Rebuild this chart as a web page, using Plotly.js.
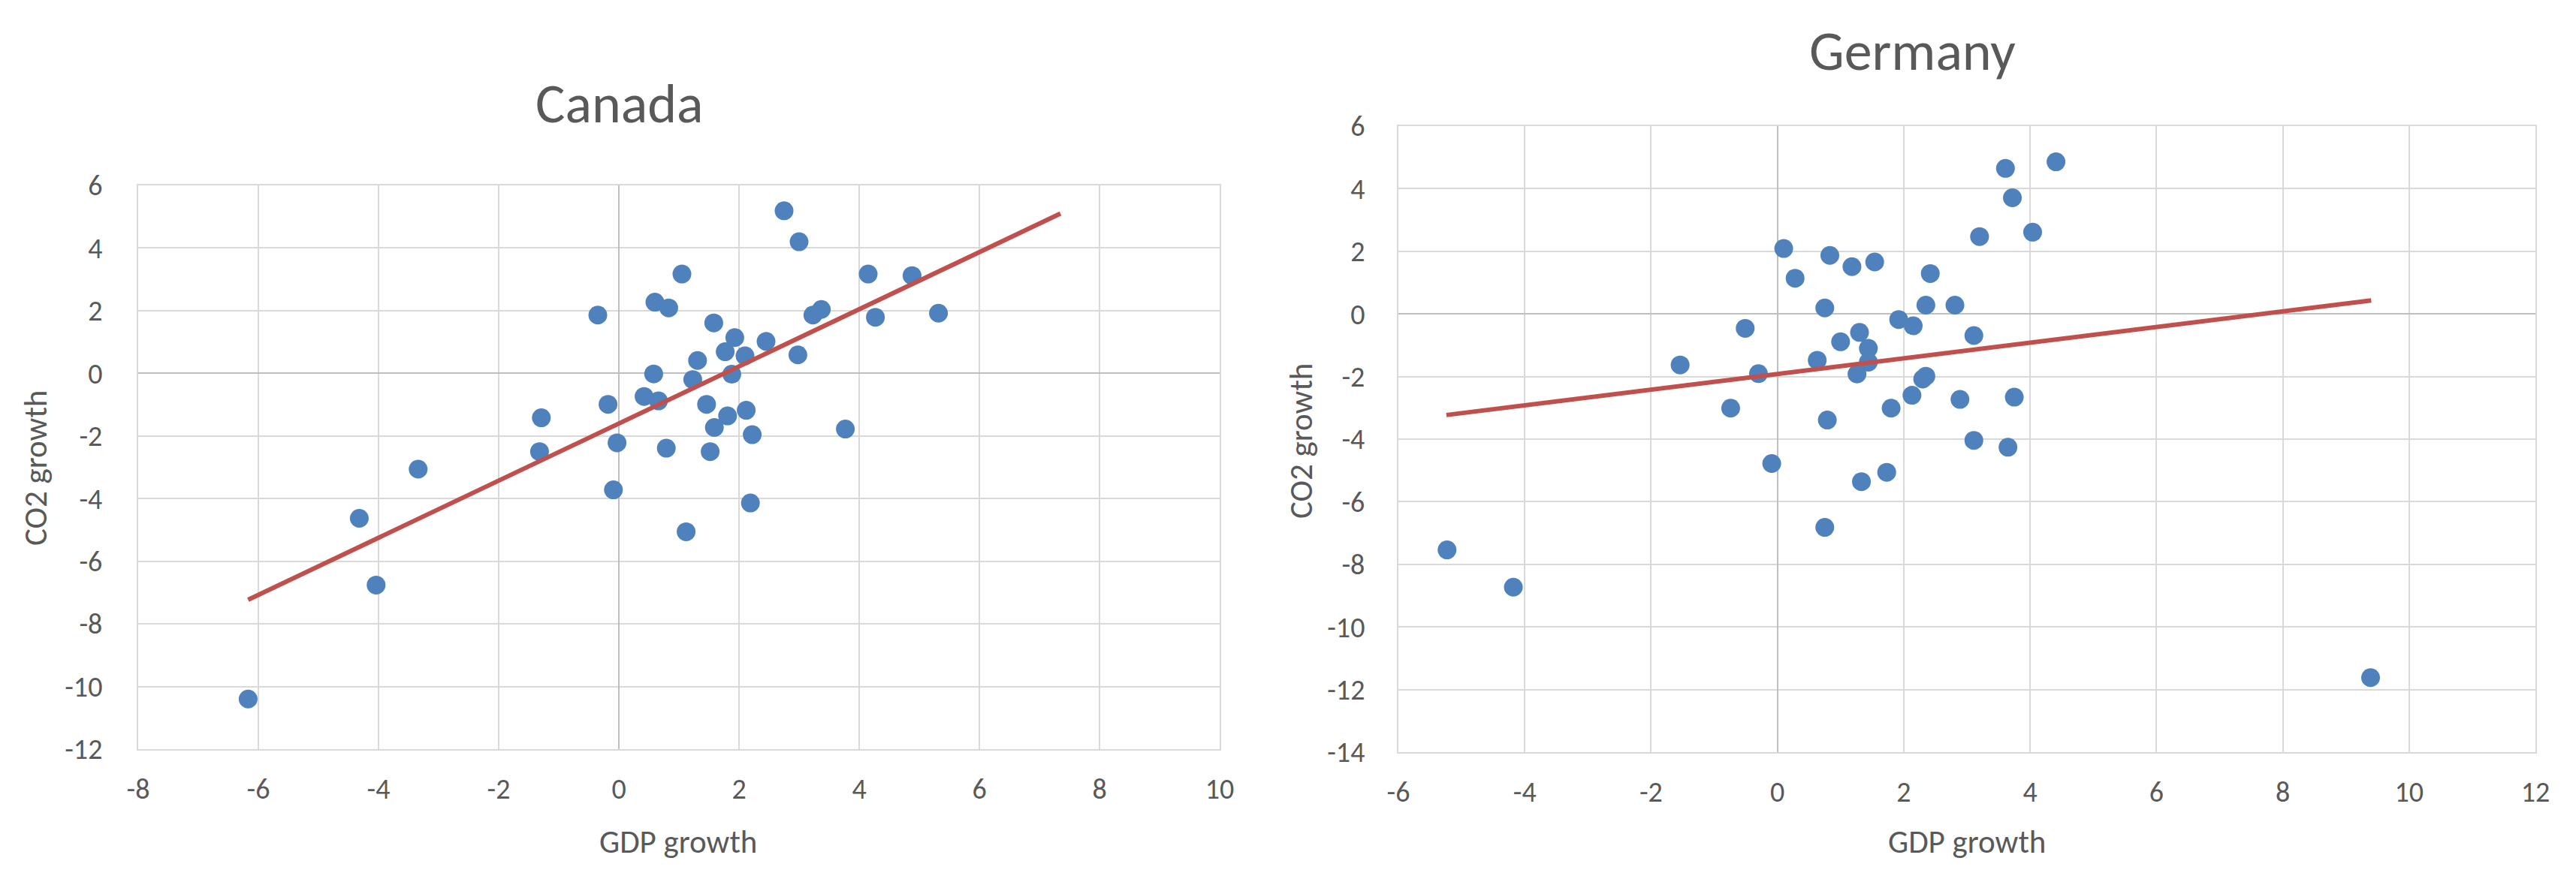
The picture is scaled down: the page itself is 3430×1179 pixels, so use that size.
<!DOCTYPE html>
<html>
<head>
<meta charset="utf-8">
<script src="https://cdn.plot.ly/plotly-3.0.1.min.js"></script>
<style>
  html, body { margin: 0; padding: 0; background: #ffffff; }
  #chart { width: 3430px; height: 1179px; }
</style>
</head>
<body>
<div id="chart"></div>
<script>
// ---- Data ----
const canadaGDP = [2.75, 3.00, 1.05, 4.15, 4.88, -0.35, 0.60, 0.83, 3.23, 3.37, 4.27, 5.32, 1.58, 1.93, 2.45, 1.77, 2.10, 2.98, 1.31, 0.58, 1.23, 1.88, 0.42, 0.66, -0.18, 1.46, -1.29, 2.12, 1.81, 1.59, 3.77, 2.22, -0.03, 0.79, -1.32, 1.52, -3.34, -0.09, 2.19, -4.32, 1.12, -4.04, -6.17];
const canadaCO2 = [5.19, 4.20, 3.17, 3.17, 3.12, 1.86, 2.27, 2.09, 1.86, 2.04, 1.79, 1.92, 1.61, 1.14, 1.02, 0.69, 0.56, 0.59, 0.41, -0.02, -0.20, -0.03, -0.74, -0.88, -0.99, -0.99, -1.42, -1.18, -1.36, -1.73, -1.78, -1.96, -2.22, -2.39, -2.50, -2.50, -3.06, -3.72, -4.14, -4.63, -5.06, -6.76, -10.40];
const canadaTrendX = [-6.17, 7.35];
const canadaTrendY = [-7.23, 5.10];

const germanyGDP = [4.41, 3.61, 3.72, 4.04, 3.20, 0.10, 0.83, 1.18, 1.54, 0.28, 2.42, 0.75, 2.35, 2.81, 1.92, 2.15, -0.51, 1.30, 3.11, 1.00, 1.44, 1.44, 0.63, -1.54, -0.30, 1.26, 2.35, 2.30, 2.13, 2.89, 3.75, -0.74, 1.80, 0.79, 3.11, 3.65, -0.09, 1.73, 1.33, 0.75, -5.23, -4.18, 9.39];
const germanyCO2 = [4.86, 4.65, 3.71, 2.61, 2.47, 2.09, 1.87, 1.51, 1.66, 1.14, 1.29, 0.19, 0.28, 0.28, -0.18, -0.38, -0.46, -0.59, -0.69, -0.89, -1.10, -1.54, -1.48, -1.63, -1.91, -1.92, -1.99, -2.08, -2.60, -2.73, -2.66, -3.01, -3.01, -3.39, -4.04, -4.26, -4.78, -5.06, -5.36, -6.82, -7.54, -8.73, -11.62];
const germanyTrendX = [-5.24, 9.40];
const germanyTrendY = [-3.23, 0.43];

const canadaXTicks = [-8, -6, -4, -2, 0, 2, 4, 6, 8, 10];
const canadaYTicks = [-12, -10, -8, -6, -4, -2, 0, 2, 4, 6];
const germanyXTicks = [-6, -4, -2, 0, 2, 4, 6, 8, 10, 12];
const germanyYTicks = [-14, -12, -10, -8, -6, -4, -2, 0, 2, 4, 6];

const chartTitles = ["Canada", "Germany"];
const xTitle = "GDP growth";
const yTitle = "CO2 growth";

// ---- Styling ----
const FONT = "Carlito, Calibri, Lato, sans-serif";
const TEXT = "#595959";
const GRID = "#D9D9D9";
const ZERO = "#BFBFBF";
const DOT = "#4F81BD";
const LINE = "#C0504D";
const label = v => String(v); // hyphen-minus like the original

function axis(ticks, range, domain, anchor, ticklen) {
  return {
    range: range,
    domain: domain,
    anchor: anchor,
    tickmode: "array",
    tickvals: ticks,
    ticktext: ticks.map(label),
    ticks: "outside",
    ticklen: ticklen,
    tickcolor: "rgba(0,0,0,0)",
    tickfont: { family: FONT, size: 38, color: TEXT },
    showgrid: true,
    gridcolor: GRID,
    gridwidth: 2,
    zeroline: true,
    zerolinecolor: ZERO,
    zerolinewidth: 2,
    showline: true,
    linecolor: GRID,
    linewidth: 2,
    mirror: true,
    fixedrange: true
  };
}

const traces = [
  { x: canadaGDP, y: canadaCO2, xaxis: "x", yaxis: "y", type: "scatter", mode: "markers",
    marker: { color: DOT, size: 25, line: { width: 0 } }, hoverinfo: "skip" },
  { x: canadaTrendX, y: canadaTrendY, xaxis: "x", yaxis: "y", type: "scatter", mode: "lines",
    line: { color: LINE, width: 6 }, hoverinfo: "skip" },
  { x: germanyGDP, y: germanyCO2, xaxis: "x2", yaxis: "y2", type: "scatter", mode: "markers",
    marker: { color: DOT, size: 25, line: { width: 0 } }, hoverinfo: "skip" },
  { x: germanyTrendX, y: germanyTrendY, xaxis: "x2", yaxis: "y2", type: "scatter", mode: "lines",
    line: { color: LINE, width: 6 }, hoverinfo: "skip" }
];

const W = 3430, H = 1179;
const px = v => v / W;
const py = v => 1 - v / H;

const layout = {
  width: W, height: H,
  margin: { l: 0, r: 0, t: 0, b: 0 },
  paper_bgcolor: "#ffffff",
  plot_bgcolor: "#ffffff",
  showlegend: false,
  font: { family: FONT, color: TEXT },
  xaxis: axis(canadaXTicks, [-8, 10], [px(184), px(1624)], "y", 18),
  yaxis: axis(canadaYTicks, [-12, 6], [py(998), py(247)], "x", 38),
  xaxis2: axis(germanyXTicks, [-6, 12], [px(1862), px(3376)], "y2", 18),
  yaxis2: axis(germanyYTicks, [-14, 6], [py(1002), py(168)], "x2", 35),
  annotations: [
    { text: chartTitles[0], xref: "paper", yref: "paper", x: px(825), y: py(138),
      xanchor: "center", yanchor: "middle", showarrow: false,
      font: { family: FONT, size: 74, color: TEXT } },
    { text: chartTitles[1], xref: "paper", yref: "paper", x: px(2546), y: py(68),
      xanchor: "center", yanchor: "middle", showarrow: false,
      font: { family: FONT, size: 74, color: TEXT } },
    { text: xTitle, xref: "paper", yref: "paper", x: px(903), y: py(1121),
      xanchor: "center", yanchor: "middle", showarrow: false,
      font: { family: FONT, size: 43, color: TEXT } },
    { text: xTitle, xref: "paper", yref: "paper", x: px(2619), y: py(1121),
      xanchor: "center", yanchor: "middle", showarrow: false,
      font: { family: FONT, size: 43, color: TEXT } },
    { text: yTitle, xref: "paper", yref: "paper", x: px(47), y: py(624), textangle: -90,
      xanchor: "center", yanchor: "middle", showarrow: false,
      font: { family: FONT, size: 43, color: TEXT } },
    { text: yTitle, xref: "paper", yref: "paper", x: px(1732), y: py(588), textangle: -90,
      xanchor: "center", yanchor: "middle", showarrow: false,
      font: { family: FONT, size: 43, color: TEXT } }
  ]
};

Plotly.newPlot("chart", traces, layout, { staticPlot: true, displayModeBar: false });
</script>
</body>
</html>
